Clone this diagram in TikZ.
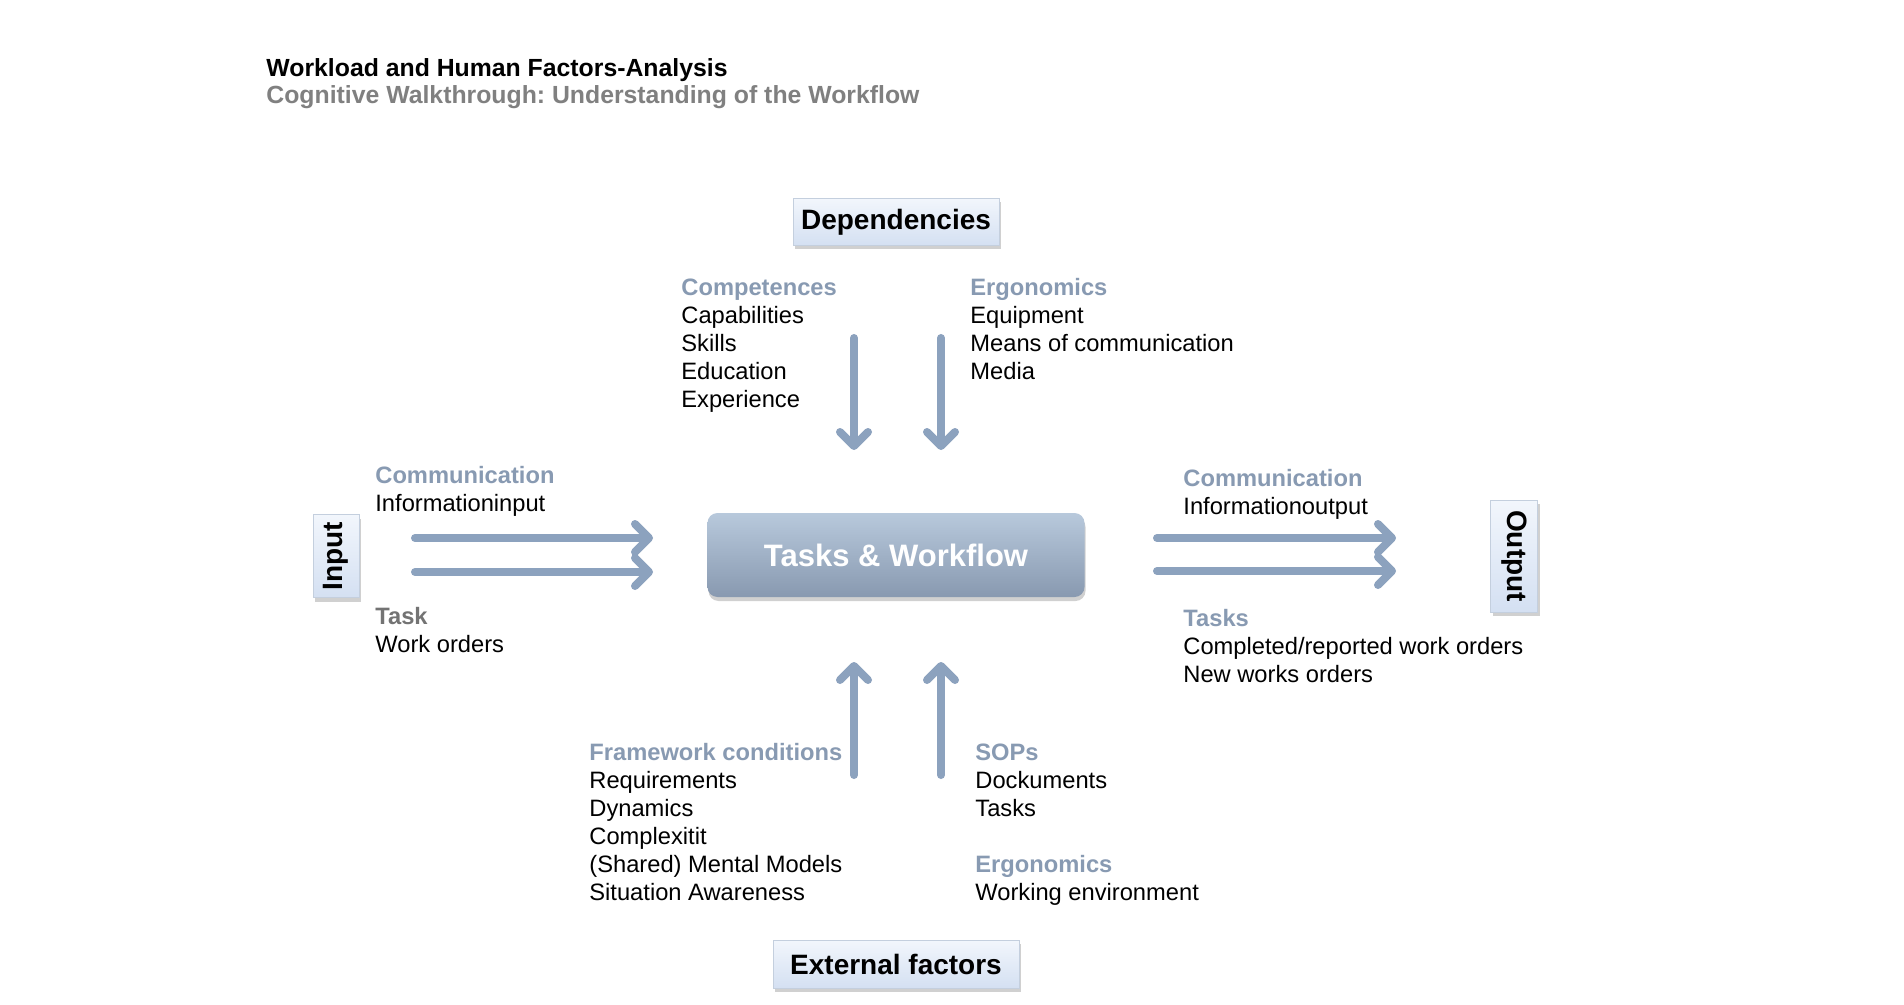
\documentclass[tikz,border=0pt]{standalone}
\usepackage{fontspec}
\setmainfont{Liberation Sans}
\usetikzlibrary{arrows.meta,shadows}
\frenchspacing
\definecolor{headc}{RGB}{136,154,178}
\definecolor{taskgray}{RGB}{115,115,115}
\definecolor{arrowc}{RGB}{140,162,190}
\definecolor{subgray}{RGB}{128,128,128}
\definecolor{boxtop}{RGB}{184,201,220}
\definecolor{boxbot}{RGB}{136,153,176}
\definecolor{lbltop}{RGB}{242,246,252}
\definecolor{lblbot}{RGB}{212,224,242}
\definecolor{lbldraw}{RGB}{196,207,222}
\newcommand\blk[1]{\begin{tabular}[t]{@{}l@{}}#1\end{tabular}}
\newcommand\hd[1]{\textcolor{headc}{\bfseries #1}}
\tikzset{
  txt/.style={anchor=base west, inner sep=0pt, font=\fontsize{11.85}{14}\selectfont},
  lbl/.style={draw=lbldraw, line width=0.5pt, top color=lbltop, bottom color=lblbot,
    font=\fontsize{14}{16}\selectfont\bfseries, inner sep=0pt,
    drop shadow={shadow xshift=1pt, shadow yshift=-2pt, opacity=0.3, fill=black!60}},
  main/.style={rounded corners=5pt, top color=boxtop, bottom color=boxbot, text=white,
    font=\fontsize{15.5}{18}\selectfont\bfseries, minimum width=188.5pt, minimum height=42pt,
    drop shadow={shadow xshift=0.5pt, shadow yshift=-2pt, opacity=0.3, fill=black!60}},
  flow/.style={draw=arrowc, line width=4pt, line cap=round,
    -{Straight Barb[length=7pt, width=14pt, round]}}
}
\begin{document}
\begin{tikzpicture}[x=0.5pt, y=-0.5pt]
\useasboundingbox[fill=white] (0,0) rectangle (1904,1005);

% titles
\node[anchor=base west, inner sep=0pt, font=\fontsize{12.4}{14}\selectfont\bfseries] (title) at (266,77) {Workload and Human Factors-Analysis};
\node[anchor=base west, inner sep=0pt, font=\fontsize{12.4}{14}\selectfont\bfseries, text=subgray] (subtitle) at (266,104) {Cognitive Walkthrough: Understanding of the Workflow};

% label boxes
\node[lbl, minimum width=103pt, minimum height=23.5pt] (dep) at (896,222) {Dependencies};
\node[lbl, minimum width=123pt, minimum height=24pt] (ext) at (896,964) {External factors};
\node[lbl, rotate=90, minimum width=41.5pt, minimum height=23pt] (inp) at (336,556) {Input};
\node[lbl, rotate=-90, minimum width=56pt, minimum height=23.5pt] (outp) at (1514,556) {Output};

% main box
\node[main] (tw) at (896,555) {Tasks \& Workflow};

% text blocks
\node[txt] (comp) at (681,296) {\blk{\hd{Competences}\\Capabilities\\Skills\\Education\\Experience}};
\node[txt] (ergo) at (970,296) {\blk{\hd{Ergonomics}\\Equipment\\Means of communication\\Media}};
\node[txt] (cin) at (375,483) {\blk{\hd{Communication}\\Informationinput}};
\node[txt] (tin) at (375,624) {\blk{\textcolor{taskgray}{\bfseries Task}\\Work orders}};
\node[txt] (cout) at (1183,486) {\blk{\hd{Communication}\\Informationoutput}};
\node[txt] (tout) at (1183,626) {\blk{\hd{Tasks}\\Completed/reported work orders\\New works orders}};
\node[txt] (frame) at (589,760) {\blk{\hd{Framework conditions}\\Requirements\\Dynamics\\Complexitit\\(Shared) Mental Models\\Situation Awareness}};
\node[txt] (sops) at (975,760) {\blk{\hd{SOPs}\\Dockuments\\Tasks}};
\node[txt] (ergo2) at (975,872) {\blk{\hd{Ergonomics}\\Working environment}};

% arrow end points
\coordinate (d1s) at (854,338); \coordinate (d1e) at (854,450);
\coordinate (d2s) at (941,338); \coordinate (d2e) at (941,450);
\coordinate (u1s) at (854,775); \coordinate (u1e) at (854,662);
\coordinate (u2s) at (941,775); \coordinate (u2e) at (941,662);
\coordinate (l1s) at (415,538); \coordinate (l1e) at (653,538);
\coordinate (l2s) at (415,572); \coordinate (l2e) at (653,572);
\coordinate (r1s) at (1157,538); \coordinate (r1e) at (1396,538);
\coordinate (r2s) at (1157,571); \coordinate (r2e) at (1396,571);

\draw[flow] (d1s) -- (d1e);
\draw[flow] (d2s) -- (d2e);
\draw[flow] (u1s) -- (u1e);
\draw[flow] (u2s) -- (u2e);
\draw[flow] (l1s) -- (l1e);
\draw[flow] (l2s) -- (l2e);
\draw[flow] (r1s) -- (r1e);
\draw[flow] (r2s) -- (r2e);
\end{tikzpicture}
\end{document}
